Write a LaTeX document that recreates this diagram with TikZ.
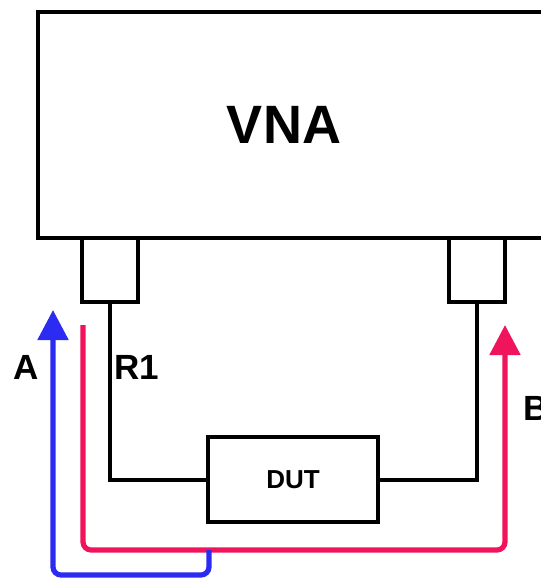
\documentclass[tikz,border=0pt]{standalone}
\usepackage{fontspec}
\setmainfont{Liberation Sans}
\usepackage{xcolor}
\usetikzlibrary{arrows.meta, positioning}
\definecolor{sigblue}{HTML}{2B2BF2}
\definecolor{sigred}{HTML}{F0145C}

\begin{document}
\begin{tikzpicture}[
  x=0.5pt, y=-0.5pt,
  every node/.style={font=\bfseries},
  box/.style={draw, line width=2pt},
  portbox/.style={rectangle, draw, line width=2pt, minimum width=28pt, minimum height=32pt, inner sep=0pt},
  dutbox/.style={rectangle, draw, line width=2pt, minimum width=85pt, minimum height=42.5pt, font=\fontsize{13}{15}\selectfont\bfseries},
  wire/.style={line width=2pt},
  sig/.style={line width=2.6pt, rounded corners=4pt, -{Triangle[width=15pt, length=15pt]}},
  portlabel/.style={font=\fontsize{17.5}{20}\selectfont\bfseries},
]
\clip (0,0) rectangle (541,580);

% analyser body
\draw[box] (700,12) -| (38,238) -- (700,238);
\node[font=\fontsize{27}{32}\selectfont\bfseries] (vna) at (284,125) {VNA};

% ports and device
\node[portbox] (portA) at (110,270) {};
\node[portbox] (portB) at (477,270) {};
\node[dutbox] (dut) at (293,479.5) {DUT};

\draw[wire] (portA.south) |- (dut.west);
\draw[wire] (dut.east) -| (portB.south);

% signal paths
\coordinate (rstart) at (83,325);
\coordinate (rcorner) at (505,550);
\coordinate (rtip) at (505,325);
\coordinate (bstart) at (209,550);
\coordinate (bcorner) at (53,575);
\coordinate (btip) at (53,310);

\draw[sig, sigred] (rstart) |- (rcorner) -- (rtip);
\draw[sig, sigblue] (bstart) |- (bcorner) -- (btip);

\node[portlabel] (labA) at (26,367) {A};
\node[portlabel] (labR) at (137,367) {R1};
\node[portlabel, anchor=west] (labB) at (516,408) {B};
\end{tikzpicture}
\end{document}
